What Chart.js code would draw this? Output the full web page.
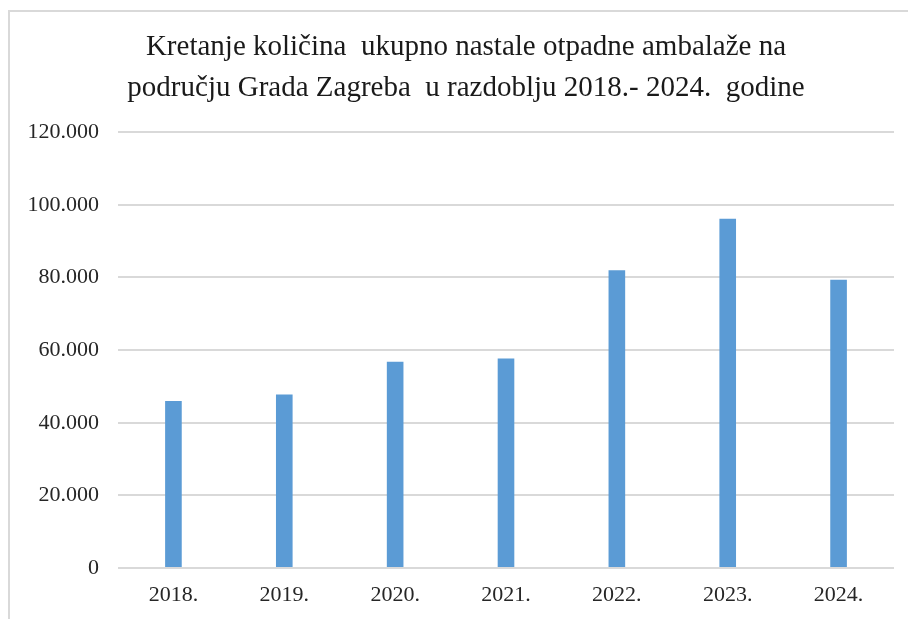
<!DOCTYPE html>
<html>
<head>
<meta charset="utf-8">
<script src="https://cdn.jsdelivr.net/npm/chart.js@4/dist/chart.umd.min.js"></script>
<style>
  html, body { margin: 0; padding: 0; background: #fff; overflow: hidden; }
  #frame {
    position: absolute; left: 8px; top: 10px; width: 1000px; height: 700px;
    border-left: 2px solid #d9d9d9; border-top: 2px solid #d9d9d9;
  }
  #chart-wrapper { position: absolute; left: 0; top: 0; width: 922px; height: 619px; }
</style>
</head>
<body>
<div id="frame"></div>
<div id="chart-wrapper">
  <canvas id="bar-chart" width="922" height="619"></canvas>
</div>
<script>
// years shown on the x axis
const categories = ['2018.', '2019.', '2020.', '2021.', '2022.', '2023.', '2024.'];
// total packaging waste (t)
const values = [46000, 47800, 56800, 57700, 82000, 96200, 79400];
const titleLines = [
  'Kretanje količina  ukupno nastale otpadne ambalaže na',
  'području Grada Zagreba  u razdoblju 2018.- 2024.  godine'
];
const yMax = 120000;
const yStep = 20000;

// 120000 -> "120.000"
function formatThousands(v) {
  return String(v).replace(/\B(?=(\d{3})+(?!\d))/g, '.');
}

const serif = '"Liberation Serif", "Times New Roman", serif';

var ctx = document.getElementById('bar-chart').getContext('2d');
var barChart = new Chart(ctx, {
  type: 'bar',
  data: {
    labels: categories,
    datasets: [{
      label: 'Količina',
      data: values,
      backgroundColor: '#5B9BD5',
      borderWidth: 0,
      categoryPercentage: 1,
      barPercentage: 0.15
    }]
  },
  options: {
    responsive: false,
    animation: false,
    layout: { padding: { left: 10, right: 0, top: 0, bottom: 0 } },
    plugins: {
      legend: { display: false },
      tooltip: { enabled: false },
      title: {
        display: true,
        text: titleLines,
        color: '#1a1a1a',
        font: { family: serif, size: 29, weight: 'normal', lineHeight: 1.4 },
        padding: { top: 27, bottom: 24 }
      }
    },
    scales: {
      x: {
        grid: { display: false, drawTicks: false },
        border: { display: false },
        ticks: {
          color: '#262626',
          font: { family: serif, size: 22 },
          padding: 14,
          maxRotation: 0
        },
        afterFit: (axis) => { axis.height = 51; }
      },
      y: {
        min: 0,
        max: yMax,
        grid: { color: '#d9d9d9', lineWidth: 2, drawTicks: false },
        border: { display: false },
        ticks: {
          stepSize: yStep,
          color: '#262626',
          font: { family: serif, size: 22 },
          padding: 19,
          callback: (v) => formatThousands(v)
        },
        afterFit: (axis) => { axis.width = 108; }
      },
      // empty right-hand strip so the title centres like the original
      yRight: {
        position: 'right',
        min: 0,
        max: yMax,
        grid: { display: false, drawTicks: false },
        border: { display: false },
        ticks: { display: false },
        afterFit: (axis) => { axis.width = 28; }
      }
    }
  }
});
</script>
</body>
</html>
